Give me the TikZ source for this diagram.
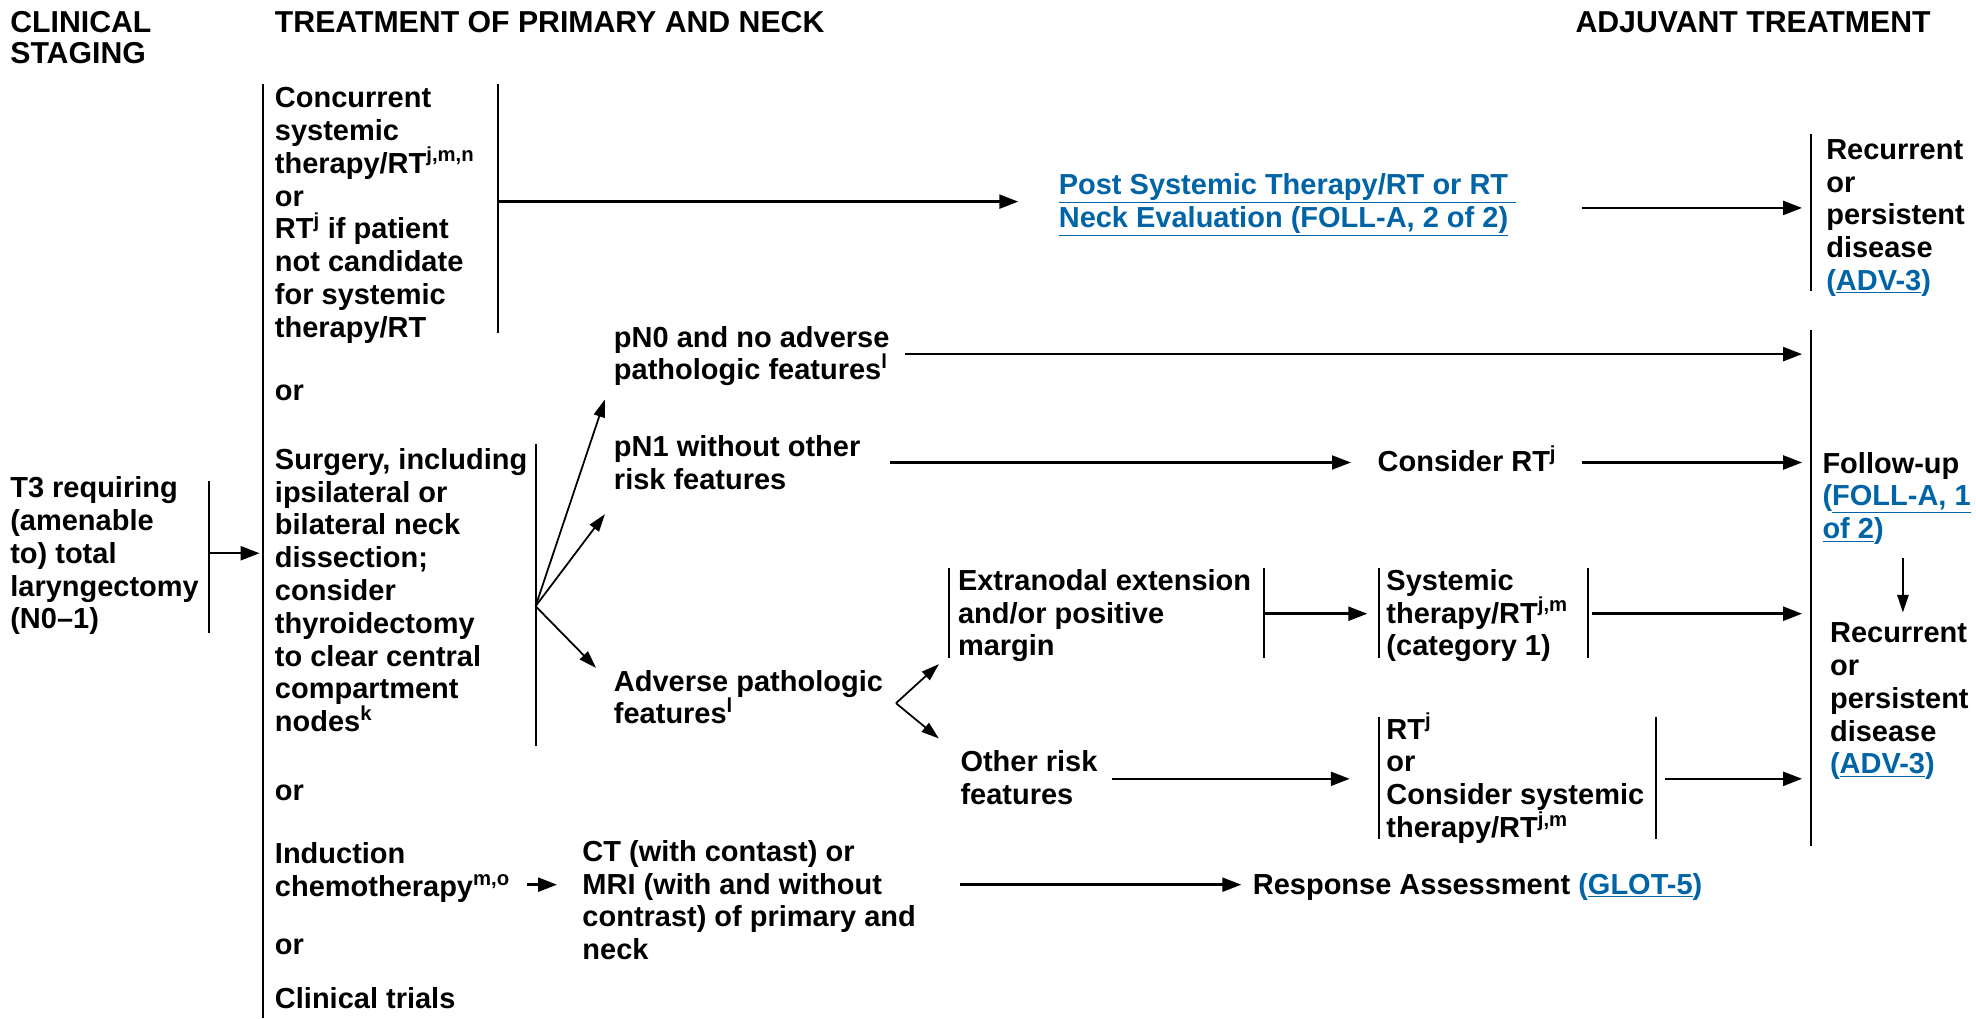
\documentclass[tikz,border=0pt]{standalone}
\usepackage{fontspec}
\setmainfont{Liberation Sans}
\usetikzlibrary{arrows.meta}
\definecolor{linkblue}{RGB}{0,100,166}
\newcommand{\lnk}[1]{{\color{linkblue}\underline{#1}}}
\newcommand{\lnkp}[1]{{\color{linkblue}(\underline{#1})}}
\begin{document}
\begin{tikzpicture}[x=1pt,y=-1pt,
  txt/.style={anchor=base west,inner sep=0pt,align=left,font=\bfseries\fontsize{23}{26}\selectfont},
  hdr/.style={anchor=base west,inner sep=0pt,align=left,font=\bfseries\fontsize{24}{24}\selectfont},
  bar/.style={line width=1.5pt},
  arr/.style={line width=2pt,-{Triangle[length=15pt,width=11pt]}},
  farr/.style={line width=1.4pt,-{Triangle[length=14pt,width=9pt]}},
]
\useasboundingbox (0,0) rectangle (1568,808);

% headers (anchor = baseline of last line)
\node[hdr] (hA) at (8,50) {CLINICAL\\STAGING};
\node[hdr] (hB) at (218,26) {TREATMENT OF PRIMARY AND NECK};
\node[hdr] (hC) at (1250,26) {ADJUVANT TREATMENT};

% column 1
\node[txt] (t3) at (8,499) {T3 requiring\\(amenable\\to) total\\laryngectomy\\(N0--1)};
\coordinate (t3a) at (166,382); \coordinate (t3b) at (166,502);
\draw[bar] (t3a) -- (t3b);
\coordinate (t3o) at (166,439); \coordinate (mi) at (206,439);
\draw[arr] (t3o) -- (mi);

% main bar
\coordinate (ma) at (209,67); \coordinate (mb) at (209,808);
\draw[bar] (ma) -- (mb);

% concurrent
\node[txt] (conc) at (218,267.5) {Concurrent\\systemic\\therapy/RT\textsuperscript{j,m,n}\\or\\RT\textsuperscript{j} if patient\\not candidate\\for systemic\\therapy/RT};
\coordinate (ca) at (395,67); \coordinate (cb) at (395,264);
\draw[bar] (ca) -- (cb);
\coordinate (co) at (395,160); \coordinate (pi) at (808,160);
\draw[arr] (co) -- (pi);
\node[txt] (post) at (840,180.5) {\lnk{Post Systemic Therapy/RT or RT }\\\lnk{Neck Evaluation (FOLL-A, 2 of 2)}};
\coordinate (po) at (1255,165); \coordinate (r1i) at (1430,165);
\draw[arr] (po) -- (r1i);
\coordinate (r1a) at (1437,106); \coordinate (r1b) at (1437,231);
\draw[bar] (r1a) -- (r1b);
\node[txt] (rec1) at (1449,230.5) {Recurrent\\or\\persistent\\disease\\\lnkp{ADV-3}};

\node[txt] (or1) at (218,317.5) {or};

% surgery
\node[txt] (surg) at (218,580.5) {Surgery, including\\ipsilateral or\\bilateral neck\\dissection;\\consider\\thyroidectomy\\to clear central\\compartment\\nodes\textsuperscript{k}};
\coordinate (sa) at (425,352); \coordinate (sb) at (425,592);
\draw[bar] (sa) -- (sb);
\coordinate (so) at (425,481);
\coordinate (pn0i) at (480,317);
\coordinate (pn1i) at (480,408);
\coordinate (advi) at (473,530);
\draw[farr] (so) -- (pn0i);
\draw[farr] (so) -- (pn1i);
\draw[farr] (so) -- (advi);

\node[txt] (pn0) at (487,301.5) {pN0 and no adverse\\pathologic features\textsuperscript{l}};
\coordinate (pn0o) at (718,281); \coordinate (fi1) at (1430,281);
\draw[arr] (pn0o) -- (fi1);

\node[txt] (pn1) at (487,388.5) {pN1 without other\\risk features};
\coordinate (pn1o) at (706,367); \coordinate (crti) at (1072,367);
\draw[arr] (pn1o) -- (crti);
\node[txt] (crt) at (1093,374.5) {Consider RT\textsuperscript{j}};
\coordinate (crto) at (1255,367); \coordinate (fi2) at (1430,367);
\draw[arr] (crto) -- (fi2);

% follow-up
\coordinate (fa) at (1437,262); \coordinate (fb) at (1437,671);
\draw[bar] (fa) -- (fb);
\node[txt] (fu) at (1446,427.5) {Follow-up\\{\color{linkblue}(\underline{FOLL-A, 1}}\\{\color{linkblue}\underline{of 2})}};
\coordinate (da) at (1510,443); \coordinate (db) at (1510,486);
\draw[farr] (da) -- (db);
\node[txt] (rec2) at (1452,614) {Recurrent\\or\\persistent\\disease\\\lnkp{ADV-3}};

% adverse
\node[txt] (adv) at (487,574.5) {Adverse pathologic\\features\textsuperscript{l}};
\coordinate (ao) at (711,558);
\coordinate (enei) at (745,527);
\coordinate (othi) at (745,586);
\draw[farr] (ao) -- (enei);
\draw[farr] (ao) -- (othi);

\coordinate (e1a) at (753,451); \coordinate (e1b) at (753,522);
\draw[bar] (e1a) -- (e1b);
\node[txt] (ene) at (760,520.5) {Extranodal extension\\and/or positive\\margin};
\coordinate (e2a) at (1003,451); \coordinate (e2b) at (1003,522);
\draw[bar] (e2a) -- (e2b);
\coordinate (eo) at (1003,487); \coordinate (sysi) at (1085,487);
\draw[arr] (eo) -- (sysi);
\coordinate (s1a) at (1094,451); \coordinate (s1b) at (1094,522);
\draw[bar] (s1a) -- (s1b);
\node[txt] (sys) at (1100,520.5) {Systemic\\therapy/RT\textsuperscript{j,m}\\(category 1)};
\coordinate (s2a) at (1260,451); \coordinate (s2b) at (1260,522);
\draw[bar] (s2a) -- (s2b);
\coordinate (syso) at (1263,487); \coordinate (fi3) at (1430,487);
\draw[arr] (syso) -- (fi3);

\node[txt] (oth) at (762,638.5) {Other risk\\features};
\coordinate (otho) at (882,618); \coordinate (rti) at (1071,618);
\draw[arr] (otho) -- (rti);
\coordinate (r2a) at (1094,569); \coordinate (r2b) at (1094,666);
\draw[bar] (r2a) -- (r2b);
\node[txt] (rtb) at (1100,664.5) {RT\textsuperscript{j}\\or\\Consider systemic\\therapy/RT\textsuperscript{j,m}};
\coordinate (r3a) at (1314,569); \coordinate (r3b) at (1314,666);
\draw[bar] (r3a) -- (r3b);
\coordinate (rto) at (1321,618); \coordinate (fi4) at (1430,618);
\draw[arr] (rto) -- (fi4);

\node[txt] (or2) at (218,635.5) {or};

% induction
\node[txt] (ind) at (218,711.5) {Induction\\chemotherapy\textsuperscript{m,o}};
\coordinate (indo) at (418,702); \coordinate (cti) at (442,702);
\draw[arr] (indo) -- (cti);
\node[txt] (ct) at (462,761.5) {CT (with contast) or\\MRI (with and without\\contrast) of primary and\\neck};
\coordinate (cto) at (762,702); \coordinate (respi) at (985,702);
\draw[arr] (cto) -- (respi);
\node[txt] (resp) at (994,709.5) {Response Assessment \lnkp{GLOT-5}};

\node[txt] (or3) at (218,757.5) {or};
\node[txt] (trials) at (218,800.5) {Clinical trials};
\end{tikzpicture}
\end{document}
